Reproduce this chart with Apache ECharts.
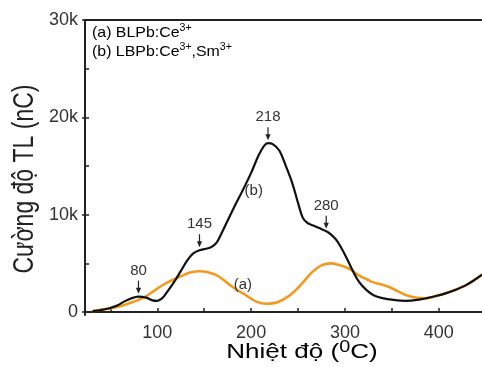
<!DOCTYPE html>
<html>
<head>
<meta charset="utf-8">
<script src="https://cdn.jsdelivr.net/npm/echarts@6/dist/echarts.min.js"></script>
<style>
  html, body { margin: 0; padding: 0; background: #fff; }
  #chart { width: 482px; height: 367px; }
</style>
</head>
<body>
<div id="chart"></div>
<script>
// TL glow curves: temperature (°C) and intensity (nC)
const tempB = [31, 40, 49, 58, 65, 72, 80, 88, 95, 100, 105, 110, 118, 125, 132, 138, 145, 152, 158, 163, 168, 174, 182, 191, 200, 208, 214, 218, 223, 230, 237, 244, 250, 255, 260, 266, 272, 282, 290, 296, 302, 308, 315, 323, 331, 340, 352, 365, 377, 387, 397, 408, 418, 429, 438, 446];
const intensityB = [100, 200, 400, 700, 1100, 1400, 1580, 1480, 1200, 1150, 1400, 2000, 3100, 4200, 5300, 6000, 6350, 6500, 6700, 7100, 8000, 9200, 10800, 12500, 14300, 16100, 17100, 17350, 17250, 16600, 15000, 13200, 11200, 9700, 9150, 8900, 8650, 8200, 7500, 6600, 5500, 4300, 3100, 2260, 1700, 1430, 1250, 1160, 1250, 1430, 1650, 1950, 2300, 2770, 3300, 3850];

const tempA = [31, 40, 50, 60, 70, 80, 89, 95, 103, 110, 120, 128, 136, 145, 153, 163, 172, 180, 188, 195, 205, 216, 228, 241, 253, 265, 275, 285, 293, 301, 307, 312, 318, 325, 329, 338, 347, 356, 365, 375, 387, 397, 408, 418, 429, 438, 446];
const intensityA = [100, 250, 400, 600, 900, 1250, 1700, 2080, 2600, 3000, 3450, 3800, 4100, 4200, 4120, 3800, 3200, 2600, 2100, 1700, 1100, 850, 1000, 1700, 2800, 4100, 4800, 5000, 4850, 4600, 4300, 3950, 3600, 3300, 3100, 2850, 2580, 2150, 1740, 1500, 1420, 1640, 1950, 2300, 2770, 3300, 3850];

// Peak temperatures marked with arrows on curve (b)
const peakTemps = [80, 145, 218, 280];
const peakIntensity = [1580, 6350, 17350, 8250];

const xLabelValues = [100, 200, 300, 400];
const xTickValues = [50, 100, 150, 200, 250, 300, 350, 400];
const yLabelValues = [0, 10000, 20000, 30000];
const yMinorValues = [5000, 10000, 15000, 20000, 25000];

const FONT = '"Liberation Sans", Arial, sans-serif';
const INK = '#222';

function pairs(xs, ys) { return xs.map((x, i) => [x, ys[i]]); }

const chart = echarts.init(document.getElementById('chart'));

chart.setOption({
  animation: false,
  backgroundColor: '#fff',
  grid: { left: 85, right: 0, top: 20, bottom: 52 },
  xAxis: [{
    type: 'value', min: 23, max: 446, position: 'bottom',
    axisLine: { show: true, lineStyle: { color: INK, width: 2 } },
    axisTick: { show: true, inside: true, length: 4, lineStyle: { color: INK, width: 1.5 }, customValues: xTickValues },
    axisLabel: { show: true, customValues: xLabelValues, color: '#333', fontFamily: FONT, fontSize: 18, margin: 9 },
    splitLine: { show: false }
  }, {
    type: 'value', min: 23, max: 446, position: 'top',
    axisLine: { show: true, onZero: false, lineStyle: { color: INK, width: 2 } },
    axisTick: { show: false }, axisLabel: { show: false }, splitLine: { show: false }
  }],
  yAxis: [{
    type: 'value', min: -300, max: 30000, position: 'left',
    axisLine: { show: true, onZero: false, lineStyle: { color: INK, width: 2 } },
    axisTick: { show: true, inside: false, length: 3, lineStyle: { color: INK, width: 1.5 }, customValues: yLabelValues },
    axisLabel: {
      show: true, customValues: yLabelValues, color: '#333', fontFamily: FONT, fontSize: 18, margin: 7,
      formatter: v => v === 0 ? '0' : (v / 1000) + 'k'
    },
    splitLine: { show: false }
  }, {
    type: 'value', min: -300, max: 30000, position: 'left',
    axisLine: { show: false },
    axisTick: { show: true, inside: true, length: 4, lineStyle: { color: INK, width: 1.5 }, customValues: yMinorValues },
    axisLabel: { show: false }, splitLine: { show: false }
  }],
  series: [{
    name: '(a) BLPb:Ce3+', type: 'line', xAxisIndex: 0, yAxisIndex: 0,
    data: pairs(tempA, intensityA), smooth: 0.35, symbol: 'none',
    lineStyle: { color: '#F39A1E', width: 2.6 }, z: 2
  }, {
    name: '(b) LBPb:Ce3+,Sm3+', type: 'line', xAxisIndex: 0, yAxisIndex: 0,
    data: pairs(tempB, intensityB), smooth: 0.35, symbol: 'none',
    lineStyle: { color: '#111', width: 2.2 }, z: 3
  }]
});

// Annotations placed through the axis scales
const toPx = v => chart.convertToPixel({ xAxisIndex: 0, yAxisIndex: 0 }, v);
const graphics = [];

peakTemps.forEach((t, i) => {
  const p = toPx([t, peakIntensity[i]]);
  const tipY = p[1] - 3;
  graphics.push({
    type: 'line', shape: { x1: p[0], y1: tipY - 13, x2: p[0], y2: tipY - 4 },
    style: { stroke: INK, lineWidth: 1.2 }, z: 10
  });
  graphics.push({
    type: 'polygon', shape: { points: [[p[0] - 2.6, tipY - 6], [p[0] + 2.6, tipY - 6], [p[0], tipY]] },
    style: { fill: INK }, z: 10
  });
  graphics.push({
    type: 'text', x: p[0], y: tipY - 23, z: 10,
    style: { text: String(t), fill: '#333', font: '15px ' + FONT, textAlign: 'center', textVerticalAlign: 'middle' }
  });
});

// Curve tags
const tagB = toPx([192, 12500]);
graphics.push({
  type: 'text', x: tagB[0] + 1, y: tagB[1], z: 10,
  style: { text: '(b)', fill: '#333', font: '15px ' + FONT, textAlign: 'left', textVerticalAlign: 'middle' }
});
const tagA = toPx([190, 2800]);
graphics.push({
  type: 'text', x: tagA[0] - 8, y: tagA[1], z: 10,
  style: { text: '(a)', fill: '#333', font: '15px ' + FONT, textAlign: 'left', textVerticalAlign: 'middle' }
});

// Sample labels with superscripts
const richStyle = {
  n: { fontSize: 15, fontFamily: FONT, color: '#222', lineHeight: 18 },
  s: { fontSize: 10, fontFamily: FONT, color: '#222', lineHeight: 18, padding: [0, 0, 9, 0] }
};
graphics.push({
  type: 'text', x: 92, y: 33, scaleX: 1.06, z: 10,
  style: { text: '{n|(a) BLPb:Ce}{s|3+}', rich: richStyle, textVerticalAlign: 'middle' }
});
graphics.push({
  type: 'text', x: 92, y: 52, scaleX: 1.06, z: 10,
  style: { text: '{n|(b) LBPb:Ce}{s|3+}{n|,Sm}{s|3+}', rich: richStyle, textVerticalAlign: 'middle' }
});

// Axis titles
graphics.push({
  type: 'text', x: 25, y: 179, rotation: Math.PI / 2, scaleY: 1.25, z: 10,
  style: { text: 'Cường độ TL (nC)', fill: '#222', font: '23px ' + FONT, textAlign: 'center', textVerticalAlign: 'middle' }
});
graphics.push({
  type: 'text', x: 302, y: 352, scaleX: 1.24, z: 10,
  style: {
    text: '{t|Nhiệt độ (}{s|0}{t|C)}',
    rich: {
      t: { fontSize: 21, fontFamily: FONT, color: '#222', lineHeight: 24 },
      s: { fontSize: 16, fontFamily: FONT, color: '#222', lineHeight: 24, padding: [0, 0, 9, 0] }
    },
    textAlign: 'center', textVerticalAlign: 'middle'
  }
});

chart.setOption({ graphic: graphics });
</script>
</body>
</html>
